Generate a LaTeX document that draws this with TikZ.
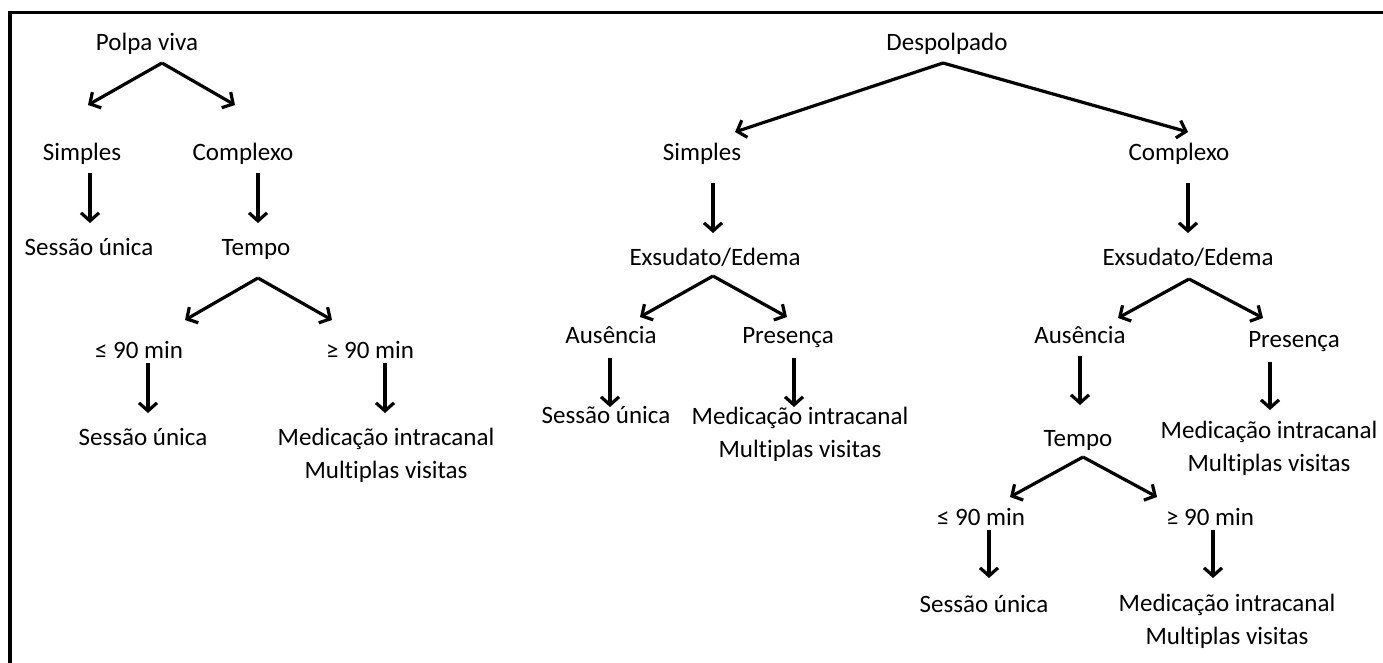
\documentclass[tikz,border=0pt]{standalone}
\usepackage{fontspec}
\setmainfont[Ligatures=NoCommon]{Carlito}
\usetikzlibrary{arrows.meta}
\begin{document}
\begin{tikzpicture}[x=1pt,y=-1pt,
  lbl/.style={anchor=base, inner sep=0pt, font=\fontsize{25}{33}\selectfont, align=center},
  arr/.style={line width=3.2pt, -{Straight Barb[length=8pt,width=18pt]}},
  frame/.style={line width=3.2pt}]
\useasboundingbox (0,0) rectangle (1383,662);
\draw[frame] (10,670) -- (10,12.5) -- (1390,12.5);

% ---- left tree: Polpa viva ----
\node[lbl] (pv)  at (147,50)  {Polpa viva};
\node[lbl] (s1)  at (82,160)  {Simples};
\node[lbl] (c1)  at (243,160) {Complexo};
\node[lbl] (su1) at (89,255)  {Sessão única};
\node[lbl] (t1)  at (256,255) {Tempo};
\node[lbl] (le1) at (139,358) {≤ 90 min};
\node[lbl] (ge1) at (370,358) {≥ 90 min};
\node[lbl] (su2) at (143,445) {Sessão única};
\node[lbl] (mi1) at (386,478) {Medicação intracanal\\Multiplas visitas};

\coordinate (pvA) at (162,63);
\coordinate (s1T) at (88,105);
\coordinate (c1T) at (235,105);
\coordinate (s1B) at (90,173);  \coordinate (su1T) at (90,223);
\coordinate (c1B) at (258,173); \coordinate (t1T) at (258,223);
\coordinate (t1A) at (258,278);
\coordinate (le1T) at (185,320);
\coordinate (ge1T) at (332,320);
\coordinate (le1B) at (148,363); \coordinate (su2T) at (148,413);
\coordinate (ge1B) at (385,363); \coordinate (mi1T) at (385,413);

\draw[arr] (pvA) -- (s1T);
\draw[arr] (pvA) -- (c1T);
\draw[arr] (s1B) -- (su1T);
\draw[arr] (c1B) -- (t1T);
\draw[arr] (t1A) -- (le1T);
\draw[arr] (t1A) -- (ge1T);
\draw[arr] (le1B) -- (su2T);
\draw[arr] (ge1B) -- (mi1T);

% ---- right tree: Despolpado ----
\node[lbl] (dp)  at (947,50)  {Despolpado};
\node[lbl] (s2)  at (702,160) {Simples};
\node[lbl] (c2)  at (1179,160) {Complexo};
\node[lbl] (ex1) at (715,265) {Exsudato/Edema};
\node[lbl] (au1) at (611,343) {Ausência};
\node[lbl] (pr1) at (788,343) {Presença};
\node[lbl] (su3) at (606,423) {Sessão única};
\node[lbl] (mi2) at (800,457) {Medicação intracanal\\Multiplas visitas};

\node[lbl] (ex2) at (1188,265) {Exsudato/Edema};
\node[lbl] (au2) at (1080,343) {Ausência};
\node[lbl] (pr2) at (1294,347) {Presença};
\node[lbl] (t2)  at (1078,446) {Tempo};
\node[lbl] (mi3) at (1269,471) {Medicação intracanal\\Multiplas visitas};
\node[lbl] (le2) at (981,525)  {≤ 90 min};
\node[lbl] (ge2) at (1210,525) {≥ 90 min};
\node[lbl] (su4) at (984,612)  {Sessão única};
\node[lbl] (mi4) at (1227,644) {Medicação intracanal\\Multiplas visitas};

\coordinate (dpA) at (943,63);
\coordinate (s2T) at (735,132);
\coordinate (c2T) at (1188,132);
\coordinate (s2B) at (713,183);  \coordinate (ex1T) at (713,233);
\coordinate (ex1A) at (713,276);
\coordinate (au1T) at (640,317);
\coordinate (pr1T) at (787,317);
\coordinate (au1B) at (610,358); \coordinate (su3T) at (610,407);
\coordinate (pr1B) at (794,358); \coordinate (mi2T) at (794,407);

\coordinate (c2B) at (1188,183); \coordinate (ex2T) at (1188,233);
\coordinate (ex2A) at (1189,279);
\coordinate (au2T) at (1118,318);
\coordinate (pr2T) at (1263,318);
\coordinate (au2B) at (1080,356); \coordinate (t2T) at (1080,405);
\coordinate (pr2B) at (1270,362); \coordinate (mi3T) at (1270,410);
\coordinate (t2A) at (1083,457);
\coordinate (le2T) at (1010,497);
\coordinate (ge2T) at (1157,497);
\coordinate (le2B) at (989,530);  \coordinate (su4T) at (989,578);
\coordinate (ge2B) at (1213,530); \coordinate (mi4T) at (1213,578);

\draw[arr] (dpA) -- (s2T);
\draw[arr] (dpA) -- (c2T);
\draw[arr] (s2B) -- (ex1T);
\draw[arr] (ex1A) -- (au1T);
\draw[arr] (ex1A) -- (pr1T);
\draw[arr] (au1B) -- (su3T);
\draw[arr] (pr1B) -- (mi2T);

\draw[arr] (c2B) -- (ex2T);
\draw[arr] (ex2A) -- (au2T);
\draw[arr] (ex2A) -- (pr2T);
\draw[arr] (au2B) -- (t2T);
\draw[arr] (pr2B) -- (mi3T);
\draw[arr] (t2A) -- (le2T);
\draw[arr] (t2A) -- (ge2T);
\draw[arr] (le2B) -- (su4T);
\draw[arr] (ge2B) -- (mi4T);
\end{tikzpicture}
\end{document}
